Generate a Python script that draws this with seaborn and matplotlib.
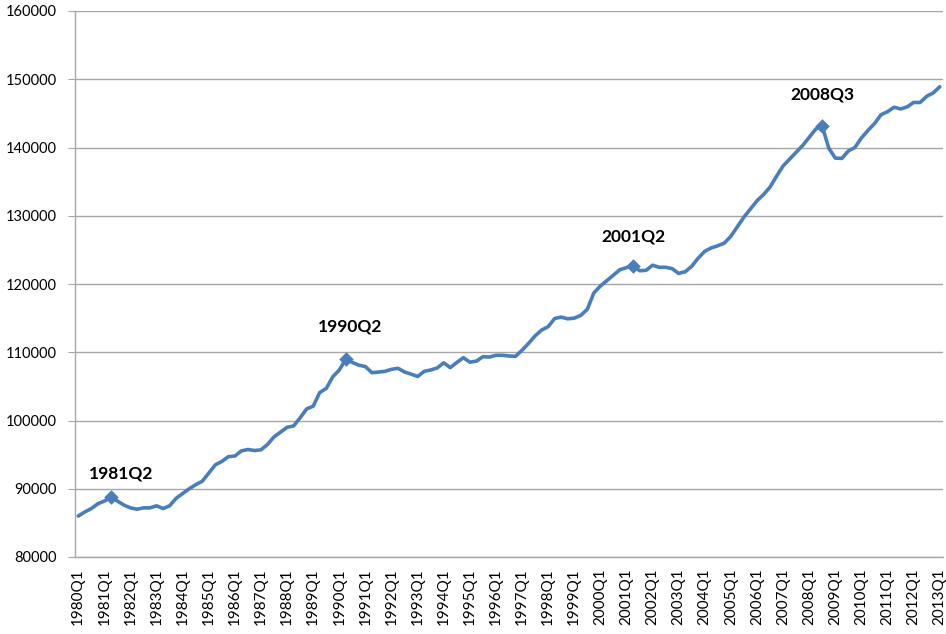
import numpy as np
import pandas as pd
import matplotlib
matplotlib.use("Agg")
import matplotlib.pyplot as plt
import seaborn as sns

# Quarterly series, 1980Q1 .. 2013Q1
start_year = 1980
values = [
    86000, 86600, 87100, 87800, 88200, 88750, 88200, 87600,   # 1980-1981
    87200, 87000, 87200, 87200, 87500, 87100, 87500, 88600,   # 1982-1983
    89300, 90000, 90600, 91100, 92300, 93500, 94000, 94700,   # 1984-1985
    94800, 95550, 95750, 95600, 95700, 96500, 97600, 98300,   # 1986-1987
    99000, 99200, 100400, 101700, 102100, 104100, 104700, 106400,  # 1988-1989
    107400, 109000, 108500, 108100, 107900, 107000, 107100, 107200,  # 1990-1991
    107500, 107650, 107100, 106800, 106450, 107200, 107400, 107700,  # 1992-1993
    108450, 107750, 108500, 109200, 108550, 108700, 109350, 109300,  # 1994-1995
    109550, 109550, 109450, 109400, 110300, 111300, 112400, 113250,  # 1996-1997
    113750, 114950, 115150, 114900, 115000, 115400, 116300, 118700,  # 1998-1999
    119700, 120500, 121300, 122100, 122400, 122700, 121950, 122000,  # 2000-2001
    122750, 122450, 122450, 122250, 121550, 121800, 122600, 123800,  # 2002-2003
    124800, 125300, 125600, 126000, 127000, 128400, 129800, 131000,  # 2004-2005
    132200, 133100, 134200, 135800, 137300, 138300, 139300, 140300,  # 2006-2007
    141500, 142700, 143100, 139900, 138450, 138400, 139500, 140000,  # 2008-2009
    141400, 142500, 143500, 144800, 145250, 145900, 145650, 145950,  # 2010-2011
    146600, 146600, 147500, 148000,                                  # 2012
    148900,                                                          # 2013Q1
]
quarters = [f"{start_year + k // 4}Q{k % 4 + 1}" for k in range(len(values))]
highlight = ["1981Q2", "1990Q2", "2001Q2", "2008Q3"]
# label placement relative to each highlighted point, in pixels
label_offsets = {"1981Q2": (10, 24), "1990Q2": (4, 33), "2001Q2": (0, 29), "2008Q3": (0, 32)}

df = pd.DataFrame({"pos": np.arange(len(values)), "quarter": quarters, "value": values})
peaks = df[df["quarter"].isin(highlight)]

sns.set_theme(style="white")
plt.rcParams["font.family"] = ["Lato", "DejaVu Sans"]

fig = plt.figure(figsize=(9.46, 6.34), dpi=100)
ax = fig.add_axes([75 / 946, 77 / 634, 868 / 946, 546 / 634])

line_color = "#4A7EBB"
sns.lineplot(data=df, x="pos", y="value", ax=ax, color=line_color,
             linewidth=2.6, solid_joinstyle="round", zorder=3)
sns.scatterplot(data=peaks, x="pos", y="value", ax=ax, marker="D", s=55,
                color=line_color, edgecolor=line_color, linewidth=0, zorder=4)

for _, row in peaks.iterrows():
    ax.annotate(row["quarter"], (row["pos"], row["value"]),
                xytext=label_offsets[row["quarter"]], textcoords="offset pixels",
                ha="center", va="center", fontsize=12.5, fontweight="bold",
                color="black")

ax.set_xlim(-0.5, len(values) - 0.5)
ax.set_ylim(80000, 160000)
ax.set_yticks(np.arange(80000, 160001, 10000))
ax.set_yticklabels([f"{v:d}" for v in range(80000, 160001, 10000)])
ax.yaxis.grid(True, color="#A6A6A6", linewidth=1.0)
ax.xaxis.grid(False)

label_pos = df["pos"][::4]
ax.set_xticks(label_pos)
ax.set_xticklabels(df["quarter"][::4], rotation=90)
ax.set_xticks(np.arange(-0.5, len(values)), minor=True)
ax.tick_params(axis="x", which="major", length=0, pad=8, labelsize=11, colors="black")
ax.tick_params(axis="x", which="minor", length=4, width=0.8, color="#A6A6A6", direction="out")
ax.tick_params(axis="y", which="major", length=5, width=0.8, color="#A6A6A6",
               pad=8, labelsize=10.5, labelcolor="black", left=True)

ax.set_xlabel("")
ax.set_ylabel("")
for side in ["top", "right"]:
    ax.spines[side].set_visible(False)
for side in ["left", "bottom"]:
    ax.spines[side].set_color("#A6A6A6")
    ax.spines[side].set_linewidth(1.0)

fig.savefig("out.png", dpi=100, facecolor="white")
